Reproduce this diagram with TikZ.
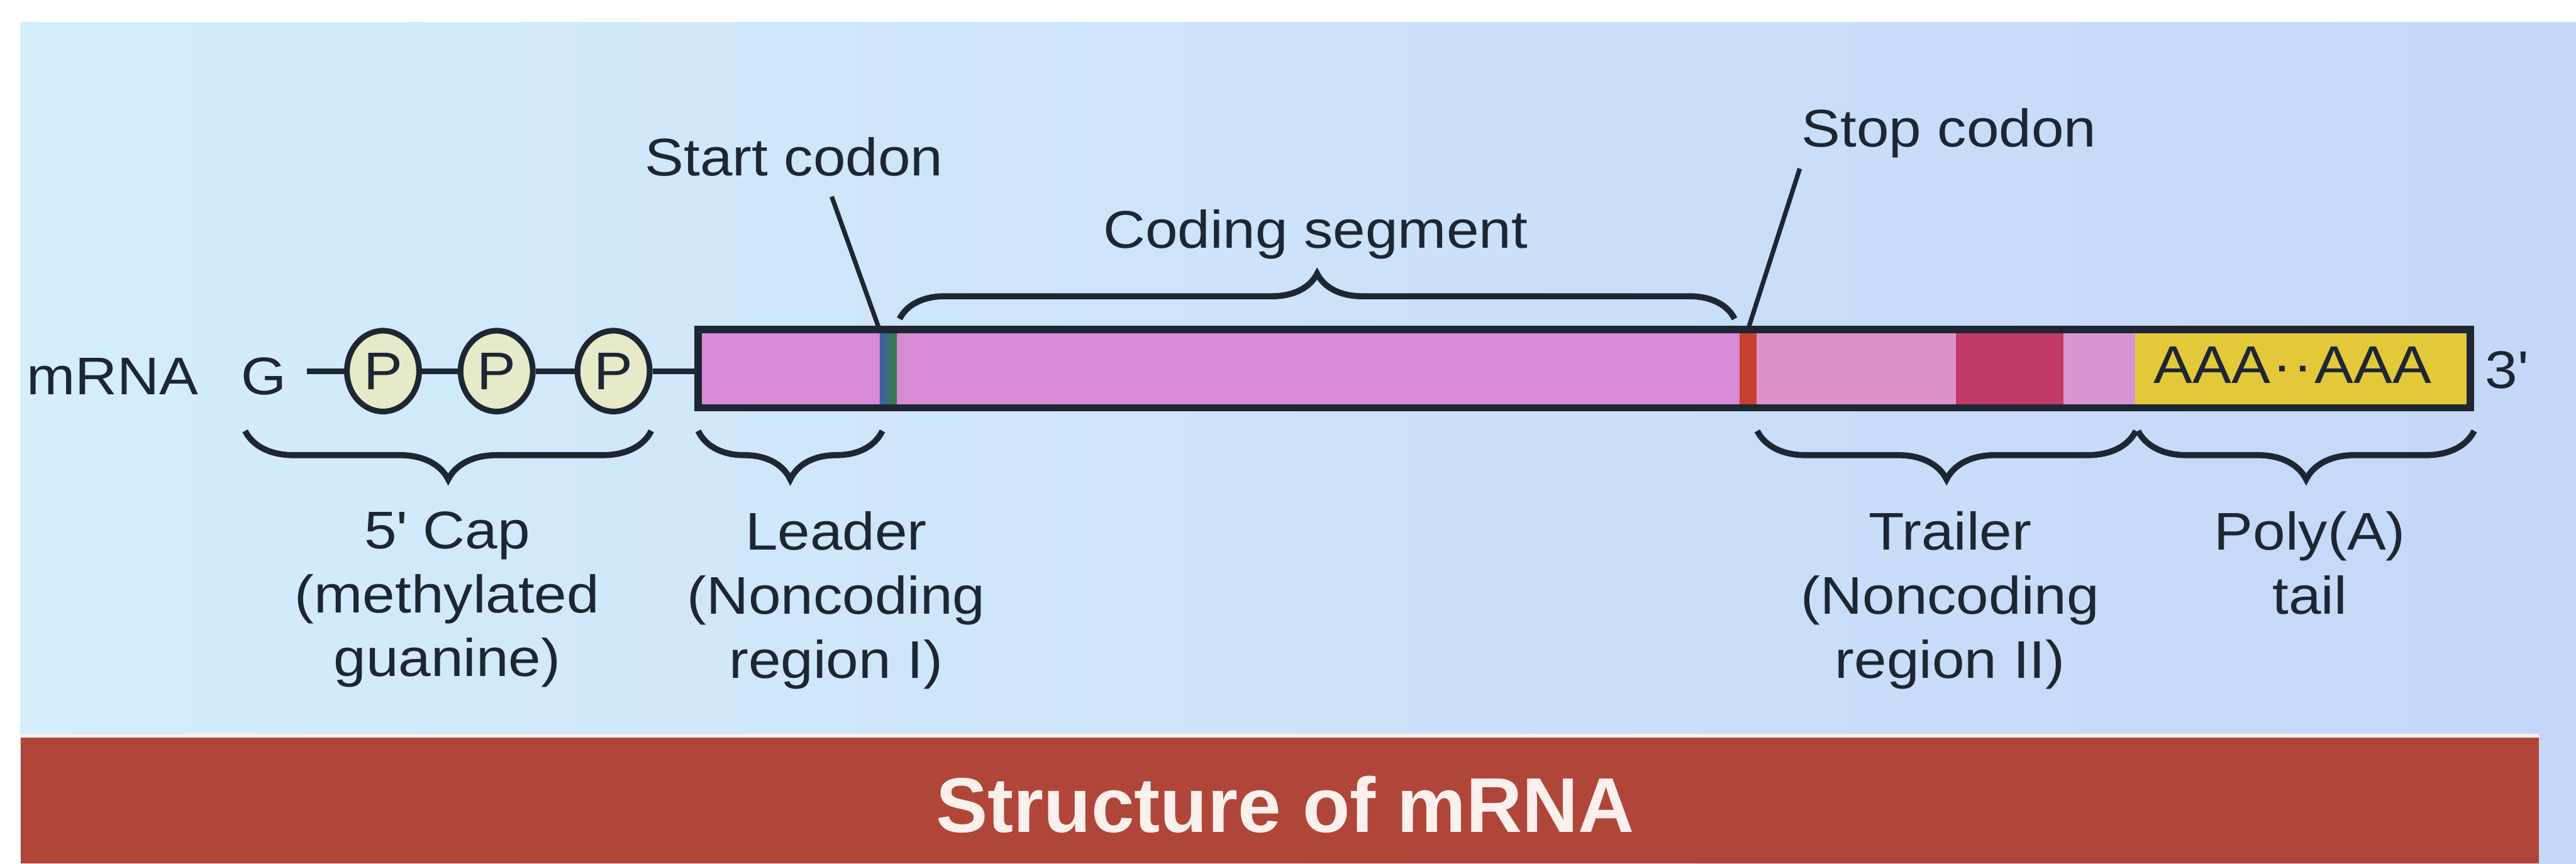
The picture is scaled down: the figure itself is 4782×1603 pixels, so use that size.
\documentclass[tikz,border=0pt]{standalone}
\usepackage{fontspec}
\setmainfont{Liberation Sans}[FakeStretch=1.1]
\newfontfamily\titlefont{Liberation Sans}
\usetikzlibrary{shapes.geometric,decorations.pathreplacing,fit}
\newcommand\apos{\XeTeXglyph\XeTeXcharglyph"0027\relax}
\definecolor{bgL}{HTML}{D4EEFB}
\definecolor{bgR}{HTML}{C4D7F8}
\definecolor{bannerc}{HTML}{B0463A}
\definecolor{titlec}{HTML}{FBF0EC}
\definecolor{inkc}{HTML}{1E2633}
\definecolor{pinkA}{HTML}{D78AD5}
\definecolor{pinkB}{HTML}{DC92C9}
\definecolor{pinkC}{HTML}{D896D0}
\definecolor{crimson}{HTML}{C23A68}
\definecolor{polyy}{HTML}{E3C93A}
\definecolor{stopred}{HTML}{C8402F}
\definecolor{startblue}{HTML}{3C5DB0}
\definecolor{startgreen}{HTML}{3B7D3A}
\definecolor{pfill}{HTML}{E6EAC8}
\begin{document}
\begin{tikzpicture}[x=0.1mm,y=-0.1mm,
  lbl/.style={text=inkc, font=\fontsize{28}{33.8}\selectfont, inner sep=0pt},
  pcircle/.style={ellipse, draw=inkc, line width=3pt, fill=pfill, minimum width=13.4mm, minimum height=15mm, inner sep=0pt, text=inkc, font=\fontsize{28}{33.8}\selectfont},
  conn/.style={draw=inkc, line width=3pt},
  lead/.style={draw=inkc, line width=2.4pt},
  brc/.style={decorate, decoration={brace, amplitude=9mm}, draw=inkc, line width=3.2pt},
  brcup/.style={decorate, decoration={brace, amplitude=8.4mm}, draw=inkc, line width=3.2pt}
]
\useasboundingbox (0,0) rectangle (4782,1603);
\fill[white] (0,0) rectangle (4782,1603);
\shade[left color=bgL, right color=bgR] (38,41) rectangle (4782,1603);
\fill[bannerc] (38,1368) rectangle (4713,1603);
\draw[titlec, line width=2pt] (38,1366) -- (4713,1366);
\node[font=\titlefont\bfseries\fontsize{41}{45}\selectfont, text=titlec, anchor=base, inner sep=0pt] (title) at (2386,1545) {Structure of mRNA};

% bar segments
\fill[pinkA] (1296,612) rectangle (3229,757);
\node[rectangle, left color=startblue, right color=startgreen, minimum width=3.2mm, minimum height=14.5mm, inner sep=0pt] (startcod) at (1649,684.5) {};
\node[rectangle, fill=stopred, minimum width=3.2mm, minimum height=14.5mm, inner sep=0pt] (stopcod) at (3245,684.5) {};
\fill[pinkB] (3261,612) rectangle (3631,757);
\fill[crimson] (3631,612) rectangle (3830,757);
\fill[pinkC] (3830,612) rectangle (3964,757);
\fill[polyy] (3964,612) rectangle (4586,757);
\coordinate (b1) at (1296,612);
\coordinate (b2) at (4586,757);
\node[draw=inkc, line width=3.8pt, fit=(b1)(b2), inner sep=0pt] (bar) {};
\node[lbl, anchor=base] (polyA) at (4256,712) {AAA\kern0.04em·\kern0.02em·\kern0.04em AAA};
\node[lbl, anchor=base west] (three) at (4613,721) {3\apos};

% 5' cap
\node[lbl, anchor=base west] (mrna) at (49,732) {mRNA};
\node[lbl, anchor=base] (G) at (490,732) {G};
\node[pcircle] (P1) at (711,689) {P};
\node[pcircle] (P2) at (922,689) {P};
\node[pcircle] (P3) at (1139,689) {P};
\draw[conn] (P1.west) -- ([xshift=3.7mm]P1.west -| G.east);
\draw[conn] (P1.east) -- (P2.west);
\draw[conn] (P2.east) -- (P3.west);
\draw[conn] (P3.east) -- (P3.east -| bar.west);

% top labels
\node[lbl, anchor=base] (startlbl) at (1474,326) {Start codon};
\node[lbl, anchor=base] (stoplbl) at (3618,273) {Stop codon};
\node[lbl, anchor=base] (coding) at (2442,460) {Coding segment};
\coordinate (startline) at (1544,365);
\coordinate (stopline) at (3341,313);
\draw[lead] (startline) -- (startcod.north west);
\draw[lead] (stopline) -- (stopcod.north);

% braces
\coordinate (codL) at (1670,592);
\coordinate (codR) at (3220,592);
\draw[brcup] (codL) -- (codR);
\coordinate (capL) at (455,800);
\coordinate (capR) at (1209,800);
\draw[brc] (capR) -- (capL);
\coordinate (leadL) at (1296,800);
\coordinate (leadR) at (1638,800);
\draw[brc] (leadR) -- (leadL);
\coordinate (trL) at (3262,800);
\coordinate (trR) at (3965,800);
\draw[brc] (trR) -- (trL);
\coordinate (paL) at (3969,800);
\coordinate (paR) at (4593,800);
\draw[brc] (paR) -- (paL);

% bottom labels
\node[lbl, align=center, anchor=north] (caplbl) at (830,949) {5\apos{} Cap\\(methylated\\guanine)};
\node[lbl, align=center, anchor=north] (leadlbl) at (1552,949) {Leader\\(Noncoding\\region I)};
\node[lbl, align=center, anchor=north] (trlbl) at (3620,949) {Trailer\\(Noncoding\\region II)};
\node[lbl, align=center, anchor=north] (palbl) at (4288,949) {Poly(A)\\tail};
\end{tikzpicture}
\end{document}
